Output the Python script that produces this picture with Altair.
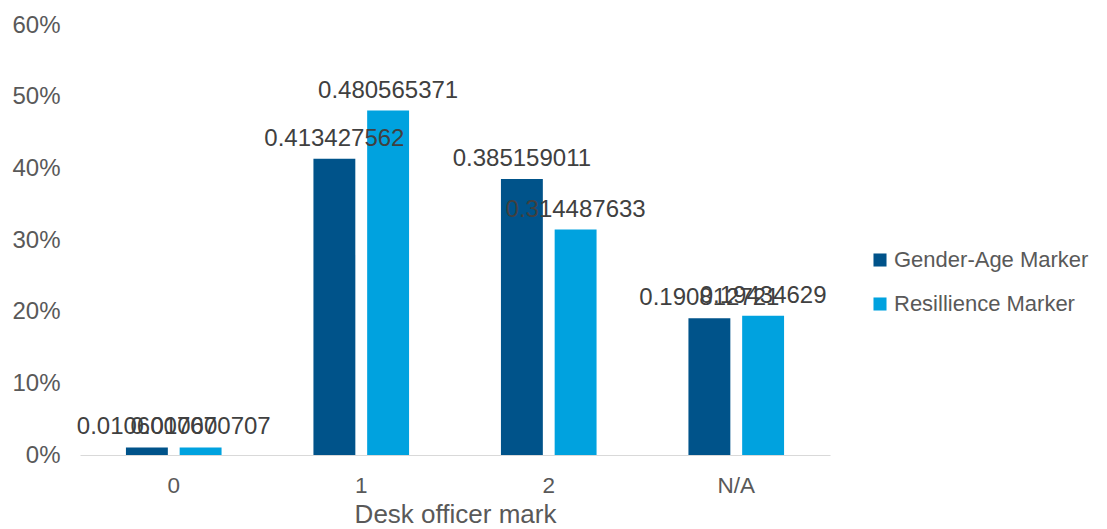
import altair as alt
import pandas as pd

categories = ["0", "1", "2", "N/A"]
series = ["Gender-Age Marker", "Resillience Marker"]
gender_age = [0.010600707, 0.413427562, 0.385159011, 0.190812721]
resilience = [0.010600707, 0.480565371, 0.314487633, 0.19434629]
colors = ["#00538A", "#00A2DF"]

rows = []
for c, g, r in zip(categories, gender_age, resilience):
    rows.append({"mark": c, "series": series[0], "value": g, "label": str(g)})
    rows.append({"mark": c, "series": series[1], "value": r, "label": str(r)})
df = pd.DataFrame(rows)

FONT = "Liberation Sans"

base = alt.Chart(df).encode(
    x=alt.X("mark:N", sort=categories,
            scale=alt.Scale(paddingInner=0.49, paddingOuter=0.245),
            axis=alt.Axis(title="Desk officer mark", labelAngle=0, ticks=False,
                          labelPadding=19, labelFontSize=22.5, labelColor="#595959",
                          titleFontSize=26, titleColor="#595959", titleFontWeight="normal",
                          titlePadding=5, domainColor="#D9D9D9", labelFont=FONT, titleFont=FONT)),
    xOffset=alt.XOffset("series:N", sort=series, scale=alt.Scale(paddingInner=0.22)),
)

bars = base.mark_bar().encode(
    y=alt.Y("value:Q", scale=alt.Scale(domain=[0, 0.6]),
            axis=alt.Axis(title=None, format="%", values=[0, 0.1, 0.2, 0.3, 0.4, 0.5, 0.6],
                          grid=False, domain=False, ticks=False, labelPadding=20,
                          labelFontSize=24, labelColor="#595959", labelFont=FONT)),
    color=alt.Color("series:N", sort=series,
                    scale=alt.Scale(domain=series, range=colors),
                    legend=alt.Legend(title=None, orient="none", legendX=789, legendY=224,
                                      symbolType="square", symbolSize=170,
                                      labelFontSize=22, labelColor="#595959", labelFont=FONT,
                                      labelLimit=0, labelOffset=3, rowPadding=22,
                                      symbolStrokeWidth=0)),
)

labels = base.mark_text(baseline="alphabetic", dy=-13, fontSize=24, color="#404040", font=FONT).encode(
    y=alt.Y("value:Q"),
    text="label:N",
)

chart = (bars + labels).properties(
    width=750, height=430,
    autosize=alt.AutoSizeParams(type="none"),
    padding={"left": 80, "top": 25, "right": 277, "bottom": 74},
).configure_view(stroke=None)

chart.save("out.html", embed_options={"renderer": "svg", "actions": False})
